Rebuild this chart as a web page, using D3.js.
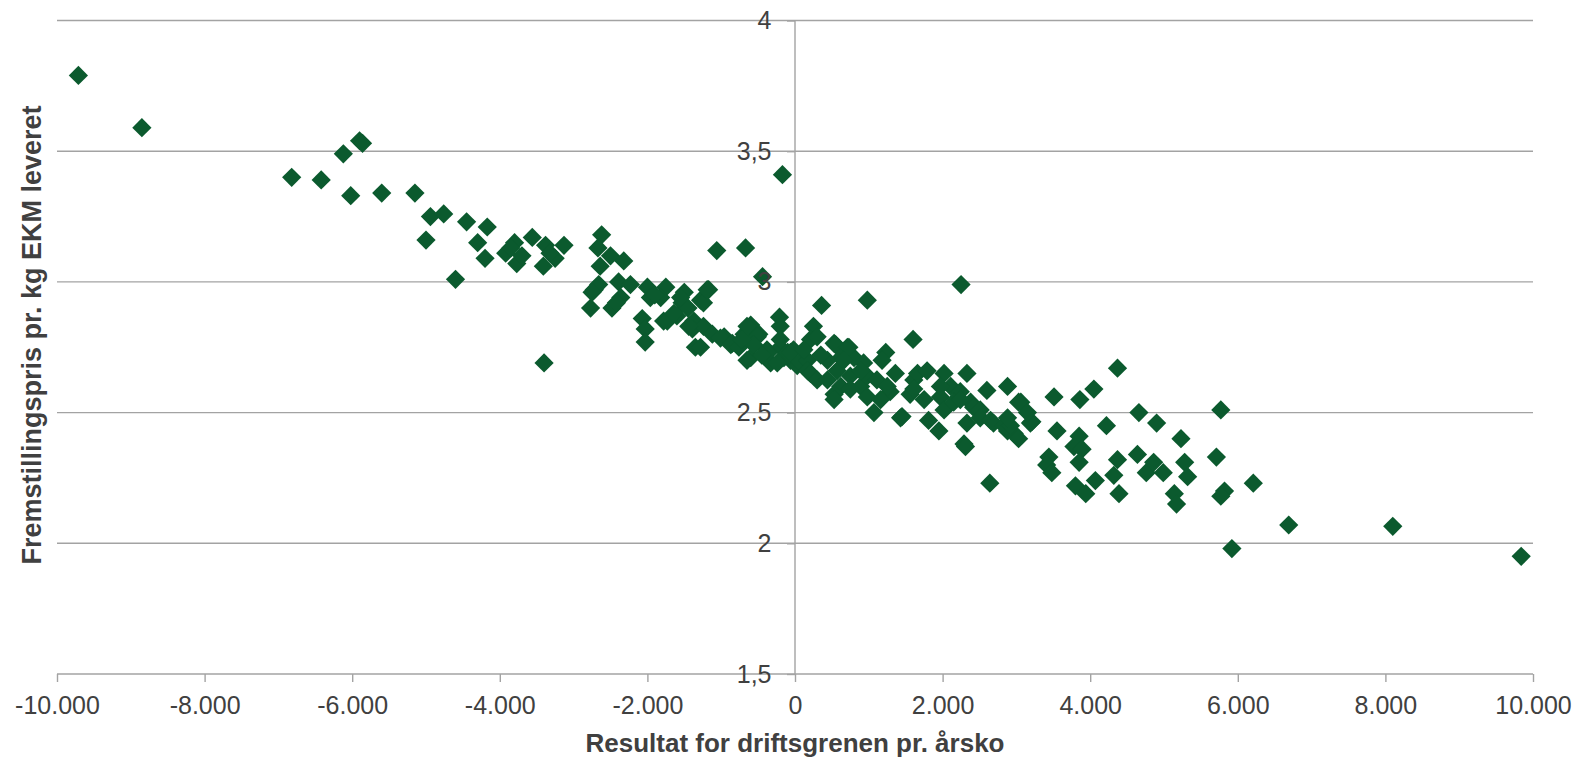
<!DOCTYPE html>
<html>
<head>
<meta charset="utf-8">
<script src="https://cdn.jsdelivr.net/npm/d3@7"></script>
<style>
  body { margin: 0; background: #fff; }
  svg text { font-family: "Liberation Sans", Arial, sans-serif; fill: #404040; }
</style>
</head>
<body>
<div id="chart"></div>
<script>
// resultat for driftsgrenen pr. årsko (kr) og fremstillingspris pr. kg EKM
const punkter = [
  [-9710,3.79],[-8850,3.59],
  [-6820,3.40],[-6420,3.39],[-6120,3.49],[-5900,3.54],[-5860,3.53],[-6020,3.33],[-5600,3.34],[-5150,3.34],
  [-4940,3.25],[-4760,3.26],[-5000,3.16],[-4450,3.23],[-4170,3.21],[-4300,3.15],[-4200,3.09],[-4600,3.01],
  [-3800,3.15],[-3920,3.11],[-3770,3.07],[-3560,3.17],[-3850,3.13],[-3700,3.10],
  [-3380,3.14],[-3410,3.06],[-3250,3.09],[-3130,3.14],[-3320,3.11],[-3400,2.69],
  [-2620,3.18],[-2670,3.13],[-2500,3.10],[-2320,3.08],[-2640,3.06],
  [-2720,2.97],[-2660,2.99],[-2770,2.90],[-2750,2.96],[-2390,3.00],[-2230,2.99],[-2360,2.94],[-2480,2.90],[-2420,2.92],
  [-2000,2.98],[-1960,2.94],[-1750,2.98],[-1820,2.94],[-2070,2.86],[-2030,2.82],[-2030,2.77],[-1780,2.85],[-1900,2.95],
  [-1500,2.96],[-1170,2.97],[-1280,2.93],[-1530,2.92],[-1240,2.92],[-1600,2.87],[-1730,2.85],[-1640,2.88],[-1370,2.85],
  [-1390,2.82],[-1240,2.83],[-1120,2.80],[-1350,2.75],[-960,2.79],[-1440,2.83],[-1450,2.90],[-1550,2.94],
  [-1060,3.12],[-670,3.13],[-440,3.02],[-170,3.41],
  [-1190,2.97],[-1010,2.785],[-1280,2.75],[-850,2.765],[-870,2.76],[-760,2.75],
  [-210,2.865],[-600,2.835],[-690,2.80],[-490,2.80],[-650,2.83],[-510,2.79],[-600,2.71],[-650,2.70],[-380,2.74],[-200,2.75],[-60,2.70],
  [-200,2.83],[-200,2.78],[-360,2.73],[-150,2.71],[-330,2.69],[-240,2.69],[-380,2.73],[-560,2.76],[-720,2.78],[-450,2.72],[-100,2.73],[-20,2.74],[-60,2.73],
  [30,2.68],[70,2.695],[250,2.83],[210,2.78],[300,2.79],[170,2.70],[170,2.66],[210,2.65],[300,2.625],[440,2.625],[530,2.765],[550,2.76],
  [710,2.75],[620,2.71],[440,2.70],[800,2.71],[930,2.69],[570,2.66],[750,2.64],[620,2.60],[530,2.57],[530,2.55],[890,2.60],[980,2.56],
  [980,2.64],[750,2.59],[890,2.66],[360,2.91],[980,2.93],[120,2.74],[350,2.72],
  [2250,2.99],
  [1600,2.78],[1230,2.73],[1180,2.70],[730,2.75],[660,2.70],[1110,2.625],[1360,2.65],[1290,2.58],[1250,2.60],[1070,2.50],[1450,2.485],
  [1430,2.48],[1160,2.55],[1560,2.57],[1610,2.625],[1660,2.65],[1790,2.66],[1610,2.59],[1750,2.55],[2020,2.65],[2110,2.60],[1970,2.56],
  [1970,2.60],[2330,2.65],[2240,2.58],[2380,2.54],[2020,2.51],[1810,2.47],[1950,2.43],[2150,2.54],[2240,2.55],[2420,2.52],
  [2600,2.585],[2880,2.60],[2510,2.51],[2510,2.48],[2650,2.47],[2690,2.46],[2330,2.46],[2290,2.38],[2310,2.37],[2880,2.43],[2830,2.45],
  [2970,2.42],[3060,2.54],[3030,2.54],[2920,2.45],[3030,2.40],[3210,2.465],[3190,2.46],[3150,2.50],[2880,2.48],[2640,2.23],
  [3510,2.56],[3860,2.55],[4050,2.59],[4370,2.67],[3550,2.43],[4220,2.45],[3850,2.41],[3780,2.37],[3890,2.36],[3850,2.31],
  [3440,2.33],[3410,2.30],[3480,2.27],[4370,2.32],[4320,2.26],[3800,2.22],[3940,2.19],[4070,2.24],[4390,2.19],
  [4660,2.50],[4900,2.46],[5230,2.40],[5770,2.51],[5710,2.33],[6210,2.23],[5820,2.20],[5770,2.18],[6690,2.07],[8100,2.065],[5920,1.98],[9840,1.95],
  [4640,2.34],[4760,2.27],[4860,2.31],[4990,2.27],[5280,2.31],[5320,2.255],[5140,2.19],[5170,2.15]
]
const xTicks = [-10000,-8000,-6000,-4000,-2000,0,2000,4000,6000,8000,10000]
const yTicks = [1.5,2,2.5,3,3.5,4]
const xTitle = "Resultat for driftsgrenen pr. årsko"
const yTitle = "Fremstillingspris pr. kg EKM leveret"

const width = 1579, height = 758
const plot = {left:57, right:1533, top:20.5, bottom:674}
const grey = "#a3a3a3"

// norsk format: punktum som tusenskille, komma som desimaltegn, vanlig bindestrek som minus
const no = d3.formatLocale({decimal:",", thousands:".", grouping:[3], currency:["kr ",""], minus:"-"})
const xFmt = no.format(",.0f")
const yFmt = d => no.format(",")(d)

const x = d3.scaleLinear().domain([-10000,10000]).range([plot.left, plot.right])
const y = d3.scaleLinear().domain([1.5,4]).range([plot.bottom, plot.top])

const svg = d3.select("#chart").append("svg").attr("width",width).attr("height",height)

// gridlines
svg.append("g").selectAll("line").data(yTicks.filter(d => d > 1.5)).enter().append("line")
  .attr("x1",plot.left).attr("x2",plot.right)
  .attr("y1",d => y(d)).attr("y2",d => y(d))
  .attr("stroke",grey).attr("stroke-width",1.4)

// axis lines (under the markers)
svg.append("line").attr("x1",plot.left).attr("x2",plot.right)
  .attr("y1",y(1.5)).attr("y2",y(1.5)).attr("stroke",grey).attr("stroke-width",1.4)
svg.append("line").attr("x1",x(0)).attr("x2",x(0))
  .attr("y1",y(4)).attr("y2",y(1.5)).attr("stroke",grey).attr("stroke-width",1.4)

// markers
const diamond = d3.symbol(d3.symbolSquare, 185)
svg.append("g").selectAll("path").data(punkter).enter().append("path")
  .attr("d",diamond)
  .attr("transform",d => `translate(${x(d[0])},${y(d[1])}) rotate(45)`)
  .attr("fill","#0b5a2e")

// axes
const xAxis = d3.axisBottom(x).tickValues(xTicks).tickSize(8).tickPadding(14).tickFormat(xFmt)
const xg = svg.append("g").attr("transform",`translate(0,${y(1.5)})`).call(xAxis)
xg.select(".domain").remove()

const yAxis = d3.axisLeft(y).tickValues(yTicks).tickSize(8).tickPadding(15.5).tickFormat(yFmt)
const yg = svg.append("g").attr("transform",`translate(${x(0)},0)`).call(yAxis)
yg.select(".domain").remove()

svg.selectAll(".tick line").attr("stroke",grey).attr("stroke-width",1.4)
svg.selectAll(".tick text").attr("font-size",25).attr("fill","#404040")
  .style("font-family","'Liberation Sans', Arial, sans-serif")

// titles
svg.append("text")
  .attr("x",(plot.left+plot.right)/2).attr("y",752)
  .attr("text-anchor","middle")
  .attr("font-size",26).attr("font-weight","bold")
  .text(xTitle)

svg.append("text")
  .attr("transform","translate(41,335) rotate(-90)")
  .attr("text-anchor","middle")
  .attr("font-size",27).attr("font-weight","bold")
  .text(yTitle)
</script>
</body>
</html>
